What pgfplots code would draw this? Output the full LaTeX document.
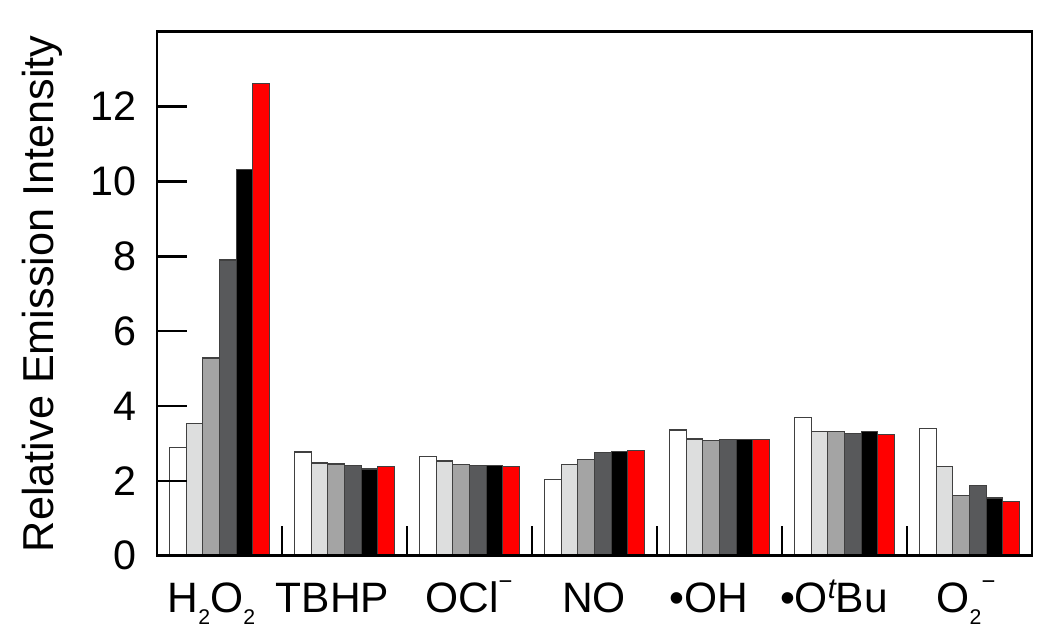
\documentclass[border=0pt]{standalone}
\usepackage{fontspec}
\setmainfont{Liberation Sans}
\usepackage{pgfplots}
\usepackage{pgfplotstable}
\pgfplotsset{compat=1.18}

\definecolor{lightgr}{HTML}{DDDEDE}
\definecolor{midgr}{HTML}{A4A4A4}
\definecolor{darkgr}{HTML}{58595B}
\definecolor{redbar}{HTML}{FF0000}

% small sub/superscripts as in the figure
\newcommand{\sub}[1]{\raisebox{-4.8pt}{\fontsize{8.5}{8.5}\selectfont #1}}
\newcommand{\supm}{\raisebox{9.2pt}{\fontsize{9.5}{9.5}\selectfont −}}
\newcommand{\supt}{\raisebox{5.5pt}{\fontsize{11.5}{11.5}\selectfont\itshape t}}

% relative emission intensity, six bars per analyte
\pgfplotstableread{
g    s1   s2   s3   s4   s5    s6
0.5  2.89 3.54 5.28 7.90 10.32 12.61
1.5  2.77 2.48 2.45 2.42 2.32  2.38
2.5  2.65 2.53 2.43 2.42 2.42  2.38
3.5  2.04 2.43 2.57 2.75 2.79  2.81
4.5  3.36 3.12 3.07 3.10 3.10  3.10
5.5  3.69 3.32 3.31 3.27 3.31  3.23
6.5  3.39 2.38 1.61 1.87 1.54  1.45
}\emission

\begin{document}
\begin{tikzpicture}
\path[use as bounding box] (-62.8pt,-33.6pt) rectangle (357.2pt,222.3pt);
\begin{axis}[
    at={(0,0)}, anchor=south west,
    scale only axis, width=350pt, height=209.6pt,
    xmin=0, xmax=7, ymin=0, ymax=14,
    axis on top,
    ybar=0pt, bar width=0.1333,
    axis line style={line width=1pt},
    tick style={line width=1pt, black},
    major tick length=12pt,
    tick align=inside,
    xtick={1,...,6}, xticklabels={},
    xtick pos=bottom, ytick pos=left,
    ytick={0,2,...,12},
    /pgf/number format/assume math mode=true,
    yticklabel style={font=\fontsize{16.5}{16.5}\selectfont, inner sep=0pt, xshift=-8pt},
    extra x ticks={0.436,1.404,2.496,3.496,4.412,5.416,6.472},
    extra x tick labels={H\sub{2}O\sub{2}, TBHP, OCl\supm, NO, •OH, •O\supt Bu, O\sub{2}\supm},
    extra x tick style={major tick length=0pt,
        xticklabel style={anchor=base, yshift=-22.7pt, font=\fontsize{17}{17}\selectfont}},
    ylabel={Relative Emission Intensity},
    ylabel style={at={(axis description cs:-0.1543,0.5)}, anchor=north, inner sep=0pt,
        font=\fontsize{17.3}{17.3}\selectfont},
    every axis plot/.append style={draw=black!75, line width=0.5pt},
]
\addplot[fill=white]   table[x=g, y=s1] {\emission};
\addplot[fill=lightgr] table[x=g, y=s2] {\emission};
\addplot[fill=midgr]   table[x=g, y=s3] {\emission};
\addplot[fill=darkgr]  table[x=g, y=s4] {\emission};
\addplot[fill=black]   table[x=g, y=s5] {\emission};
\addplot[fill=redbar]  table[x=g, y=s6] {\emission};
\end{axis}
\end{tikzpicture}
\end{document}
